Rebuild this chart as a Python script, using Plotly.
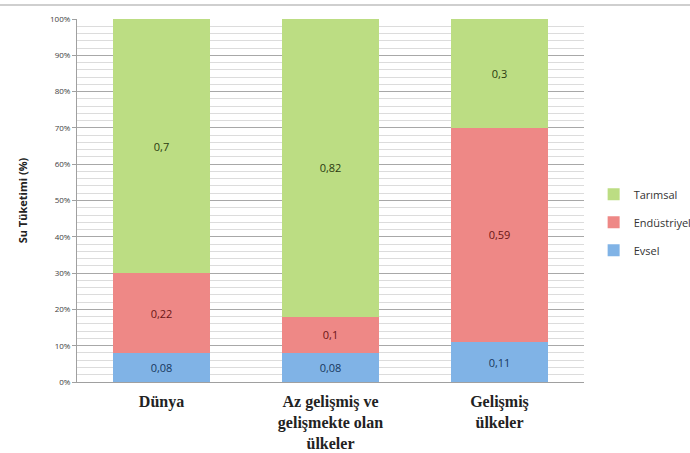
import plotly.graph_objects as go

categories = ["Dünya", "Az gelişmiş ve<br>gelişmekte olan<br>ülkeler", "Gelişmiş<br>ülkeler"]
evsel = [0.08, 0.08, 0.11]
endustriyel = [0.22, 0.10, 0.59]
tarimsal = [0.70, 0.82, 0.30]
y_ticks = [0, 0.1, 0.2, 0.3, 0.4, 0.5, 0.6, 0.7, 0.8, 0.9, 1.0]
y_tick_labels = ["0%", "10%", "20%", "30%", "40%", "50%", "60%", "70%", "80%", "90%", "100%"]

def lbl(vals):
    return [("%g" % v).replace(".", ",") for v in vals]

series = [
    ("Evsel", evsel, "#80b3e6", "#17375e", 3),
    ("Endüstriyel", endustriyel, "#ee8886", "#6b1515", 2),
    ("Tarımsal", tarimsal, "#bcdd83", "#2b3a10", 1),
]

fig = go.Figure()
for name, vals, color, tcolor, rank in series:
    fig.add_trace(go.Bar(
        x=categories, y=vals, name=name, legendgroup=name, legendrank=rank,
        marker=dict(color=color, line=dict(width=0)),
        text=lbl(vals), textposition="inside", insidetextanchor="middle",
        textfont=dict(family="Open Sans, DejaVu Sans", size=11, color=tcolor),
        textangle=0, width=0.57,
    ))

fig.update_layout(
    barmode="stack",
    width=690, height=453,
    margin=dict(l=77, r=106, t=19, b=71, autoexpand=False),
    plot_bgcolor="white", paper_bgcolor="white",
    showlegend=True,
    legend=dict(x=1.019, y=0.44, xanchor="left", yanchor="middle",
                traceorder="grouped", tracegroupgap=9,
                font=dict(family="Open Sans, DejaVu Sans", size=11, color="#333333"),
                itemwidth=30),
)
fig.update_yaxes(
    range=[0, 1], tickvals=y_ticks, ticktext=y_tick_labels,
    tickfont=dict(family="Open Sans, DejaVu Sans", size=8, color="#404040"),
    showgrid=True, gridcolor="#a8a8a8", gridwidth=1,
    minor=dict(dtick=0.02, showgrid=True, gridcolor="#dcdcdc", gridwidth=1),
    showline=True, linecolor="#a0a0a0", linewidth=1,
    ticks="outside", ticklen=4, tickcolor="#a0a0a0",
    zeroline=False, automargin=False,
    title=dict(text="<b>Su Tüketimi (%)</b>", standoff=20,
               font=dict(family="Open Sans, DejaVu Sans", size=11, color="#222222")),
)
fig.update_xaxes(
    tickfont=dict(family="Liberation Serif, DejaVu Serif", size=16, color="#222222"),
    showline=True, linecolor="#a0a0a0", linewidth=1,
    ticklabelstandoff=5, automargin=False,
)
fig.for_each_xaxis(lambda a: a.update(ticktext=["<b>" + c + "</b>" for c in categories], tickvals=categories))

fig.add_shape(type="line", xref="paper", yref="paper",
              x0=-77/507, x1=613/507, y0=1 + 14/363, y1=1 + 14/363,
              line=dict(color="#cfcfcf", width=2))

fig.write_html("out.html", config={"displayModeBar": False},
               post_script="document.body.style.margin='0';")
